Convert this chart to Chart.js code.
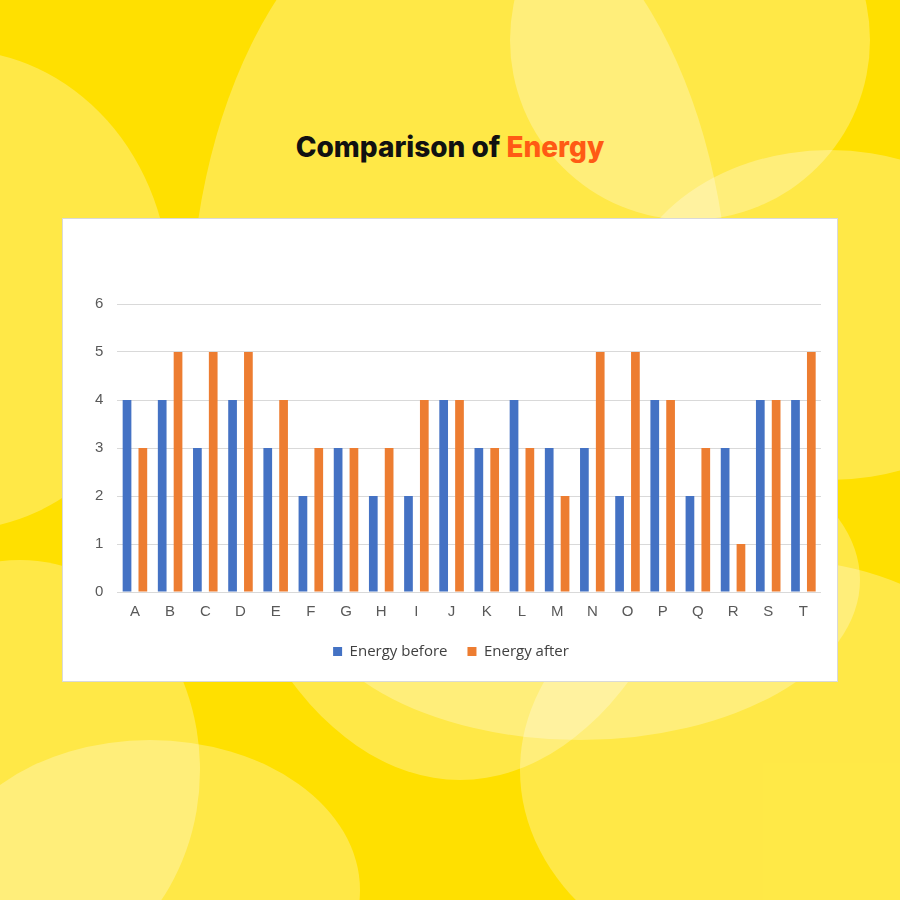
<!DOCTYPE html>
<html lang="en">
<head>
  <meta charset="UTF-8" />
  <title>Comparison of Energy</title>
  <style>
    * { box-sizing: border-box; }
    body {
      margin: 0;
      width: 900px;
      height: 900px;
      overflow: hidden;
      position: relative;
      background: #ffe000;
      font-family: "Open Sans", Arial, sans-serif;
    }
    .blob {
      position: absolute;
      border-radius: 50%;
      background: rgba(255, 255, 255, 0.28);
    }
    h1 {
      position: absolute;
      top: 130px;
      left: 0;
      width: 900px;
      margin: 0;
      text-align: center;
      font-family: Inter, "Noto Sans", sans-serif;
      font-weight: 800;
      font-size: 28px;
      color: #111;
    }
    h1 span { color: #ff5a14; }
    #box {
      position: absolute;
      left: 62px;
      top: 218px;
      width: 776px;
      height: 464px;
      background: #fff;
      border: 1px solid #d9d9d9;
    }
    #wrap {
      position: absolute;
      left: 18px;
      top: 62px;
      width: 740px;
      height: 388px;
    }
  </style>
</head>
<body>
  <div class="blob" style="left:190px;top:-120px;width:540px;height:900px;"></div>
  <div class="blob" style="left:510px;top:-140px;width:360px;height:360px;"></div>
  <div class="blob" style="left:-260px;top:50px;width:430px;height:480px;"></div>
  <div class="blob" style="left:620px;top:150px;width:420px;height:330px;"></div>
  <div class="blob" style="left:300px;top:420px;width:560px;height:320px;"></div>
  <div class="blob" style="left:520px;top:560px;width:520px;height:420px;"></div>
  <div class="blob" style="left:-60px;top:740px;width:420px;height:300px;"></div>
  <div class="blob" style="left:-160px;top:560px;width:360px;height:420px;"></div>

  <h1>Comparison of <span>Energy</span></h1>
  <div id="box"><div id="wrap"><canvas id="chart"></canvas></div></div>

<script src="https://cdn.jsdelivr.net/npm/chart.js"></script>
<script>
  const categories = ['A','B','C','D','E','F','G','H','I','J','K','L','M','N','O','P','Q','R','S','T'];
  const energyBefore = [4,4,3,4,3,2,3,2,2,4,3,4,3,3,2,4,2,3,4,4];
  const energyAfter  = [3,5,5,5,4,3,3,3,4,4,3,3,2,5,5,4,3,1,4,5];

  new Chart(document.getElementById('chart'), {
    type: 'bar',
    data: {
      labels: categories,
      datasets: [
        { label: 'Energy before', data: energyBefore, backgroundColor: '#4472c4', barPercentage: 0.55, categoryPercentage: 0.9 },
        { label: 'Energy after', data: energyAfter, backgroundColor: '#ed7d31', barPercentage: 0.55, categoryPercentage: 0.9 }
      ]
    },
    options: {
      responsive: true,
      maintainAspectRatio: false,
      animation: false,
      plugins: {
        legend: {
          position: 'bottom',
          labels: { boxWidth: 9, boxHeight: 9, color: '#404040', font: { size: 15, family: '"Open Sans"' }, padding: 20 }
        },
        tooltip: { enabled: false }
      },
      scales: {
        x: {
          grid: { display: false },
          border: { color: '#d9d9d9' },
          ticks: { color: '#595959', font: { size: 15 }, maxRotation: 0, autoSkip: false }
        },
        y: {
          min: 0, max: 6,
          ticks: { stepSize: 1, color: '#595959', font: { size: 15 }, padding: 14 },
          grid: { color: '#d9d9d9', drawTicks: false },
          border: { display: false }
        }
      }
    }
  });
</script>
</body>
</html>
